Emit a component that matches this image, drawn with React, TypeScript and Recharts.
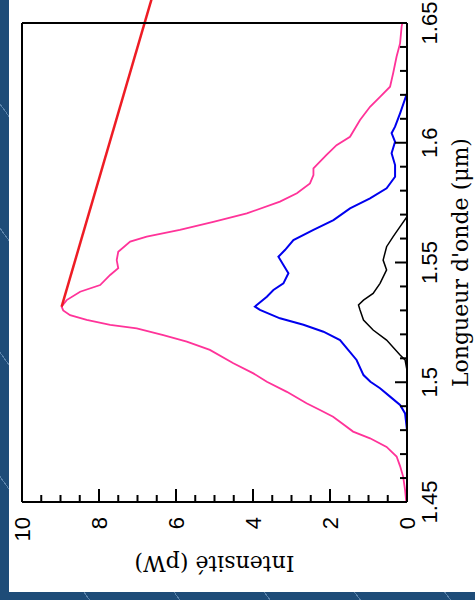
import React from 'react';
import { LineChart, Line, XAxis, YAxis, ReferenceLine } from 'recharts';

// wavelength (µm) axis
const waveTicks = [1.45, 1.46, 1.47, 1.48, 1.49, 1.5, 1.51, 1.52, 1.53, 1.54, 1.55, 1.56, 1.57, 1.58, 1.59, 1.6, 1.61, 1.62, 1.63, 1.64, 1.65];
const waveLabels = [1.45, 1.5, 1.55, 1.6, 1.65];

// intensity (pW) axis
const intensityTicks = [0, 0.5, 1, 1.5, 2, 2.5, 3, 3.5, 4, 4.5, 5, 5.5, 6, 6.5, 7, 7.5, 8, 8.5, 9, 9.5, 10];
const intensityLabels = [0, 2, 4, 6, 8, 10];

// pink spectrum
const pinkWave = [1.45, 1.455, 1.4606, 1.465, 1.469, 1.473, 1.4766, 1.4794, 1.483, 1.4856, 1.4884, 1.4912, 1.496, 1.5002, 1.5037, 1.5079, 1.5135, 1.517, 1.5197, 1.5225, 1.524, 1.526, 1.528, 1.53, 1.5316, 1.5343, 1.5378, 1.5406, 1.5448, 1.5476, 1.551, 1.5545, 1.5587, 1.5608, 1.5636, 1.567, 1.5705, 1.5754, 1.5789, 1.583, 1.5865, 1.5893, 1.5949, 1.599, 1.6025, 1.6095, 1.615, 1.6192, 1.6234, 1.629, 1.636, 1.6415, 1.6485, 1.65];
const pinkIntensity = [0.02, 0.05, 0.1, 0.18, 0.27, 0.53, 0.96, 1.4, 1.7, 1.92, 2.26, 2.61, 3.12, 3.64, 3.99, 4.51, 5.12, 5.72, 6.33, 7.02, 7.71, 8.32, 8.75, 8.93, 8.97, 8.84, 8.49, 7.97, 7.71, 7.5, 7.54, 7.5, 7.19, 6.76, 5.9, 5.03, 4.16, 3.3, 2.86, 2.52, 2.43, 2.43, 2.09, 1.83, 1.48, 1.22, 0.96, 0.7, 0.44, 0.36, 0.27, 0.18, 0.14, 0.12];

// blue spectrum
const blueWave = [1.45, 1.47, 1.48, 1.487, 1.4905, 1.494, 1.4975, 1.5002, 1.503, 1.5093, 1.5176, 1.5211, 1.524, 1.5267, 1.5302, 1.5316, 1.5357, 1.5385, 1.5413, 1.5455, 1.549, 1.5524, 1.5552, 1.5594, 1.5636, 1.5677, 1.5726, 1.5768, 1.581, 1.5858, 1.5907, 1.5956, 1.6004, 1.604, 1.6067, 1.6123, 1.6206, 1.65];
const blueIntensity = [0, 0, 0, 0.05, 0.18, 0.44, 0.7, 0.95, 1.13, 1.31, 1.74, 2.17, 2.69, 3.3, 3.82, 3.95, 3.64, 3.47, 3.21, 3.08, 3.21, 3.34, 3.17, 2.95, 2.43, 1.91, 1.48, 0.96, 0.53, 0.31, 0.31, 0.4, 0.31, 0.4, 0.31, 0.18, 0, 0];

// black spectrum
const blackWave = [1.45, 1.505, 1.5093, 1.5114, 1.5176, 1.5218, 1.526, 1.5302, 1.5323, 1.5343, 1.5371, 1.5413, 1.5469, 1.551, 1.5566, 1.5608, 1.565, 1.5691, 1.65];
const blackIntensity = [0, 0, 0.05, 0.18, 0.53, 0.88, 1.13, 1.22, 1.26, 1.13, 0.88, 0.7, 0.53, 0.62, 0.53, 0.36, 0.18, 0, 0];

// red pointer from the pink peak
const pointerWave = [1.5316, 1.68];
const pointerIntensity = [8.97, 6.27];

const toPoints = (w: number[], v: number[]) => w.map((wave, i) => ({ wave, intensity: v[i] }));

const TICK_FONT = '"Liberation Sans", Arial, sans-serif';
const TITLE_FONT = '"DejaVu Serif", serif';

const isMajor = (list: number[], v: number) => list.some((m) => Math.abs(m - v) < 1e-6);

function BottomTick({ x, y, payload }: any) {
    const major = isMajor(waveLabels, payload.value);
    return (
        <g>
            <line x1={x} y1={y} x2={x} y2={y - (major ? 12 : 7)} stroke="#000" strokeWidth={2} />
            {major && (
                <text x={x} y={y + 30} textAnchor="middle" fontSize={22} fontFamily={TICK_FONT} fill="#000">
                    {payload.value}
                </text>
            )}
        </g>
    );
}

function TopTick({ x, y, payload }: any) {
    const major = isMajor(waveLabels, payload.value);
    return <line x1={x} y1={y} x2={x} y2={y + (major ? 12 : 7)} stroke="#000" strokeWidth={2} />;
}

function LeftTick({ x, y, payload }: any) {
    const major = isMajor(intensityLabels, payload.value);
    return (
        <g>
            <line x1={x} y1={y} x2={x + (major ? 13 : 7)} y2={y} stroke="#000" strokeWidth={2} />
            {major && (
                <text x={x - 15} y={y} dy="0.36em" textAnchor="end" fontSize={22} fontFamily={TICK_FONT} fill="#000">
                    {payload.value}
                </text>
            )}
        </g>
    );
}

function RightTick({ x, y, payload }: any) {
    const major = isMajor(intensityLabels, payload.value);
    return <line x1={x} y1={y} x2={x - (major ? 13 : 7)} y2={y} stroke="#000" strokeWidth={2} />;
}

function WaveTitle({ viewBox }: any) {
    return (
        <text x={viewBox.x + viewBox.width / 2} y={viewBox.y + 61} textAnchor="middle" fontSize={22} fontFamily={TITLE_FONT} fill="#000">
            Longueur d'onde (μm)
        </text>
    );
}

function IntensityTitle({ viewBox }: any) {
    const tx = viewBox.x + viewBox.width - 54;
    const ty = viewBox.y + viewBox.height / 2;
    return (
        <text x={tx} y={ty} transform={`rotate(-90, ${tx}, ${ty})`} textAnchor="middle" fontSize={22} fontFamily={TITLE_FONT} fill="#000">
            Intensité (pW)
        </text>
    );
}

const frame = { stroke: '#000', strokeWidth: 2 };

export default function App() {
    return (
        <div
            style={{
                position: 'fixed',
                left: 0,
                top: 0,
                width: 475,
                height: 600,
                overflow: 'hidden',
                background: 'repeating-linear-gradient(54deg, #1e4c78 0px, #1e4c78 72px, #5b83aa 72px, #5b83aa 73px)',
            }}
        >
            {/* chart drawn upright, then turned a quarter left */}
            <div style={{ position: 'absolute', left: -68, top: 49, width: 620, height: 466, background: '#fff', transform: 'rotate(-90deg)' }}>
                <LineChart width={620} height={466} margin={{ top: 0, right: 0, bottom: 0, left: 0 }}>
                    <XAxis xAxisId="b" type="number" dataKey="wave" domain={[1.45, 1.65]} ticks={waveTicks} interval={0}
                        height={68} tickSize={0} tickMargin={0} tickLine={false} axisLine={frame} tick={BottomTick}
                        label={<WaveTitle />} />
                    <XAxis xAxisId="t" orientation="top" type="number" dataKey="wave" domain={[1.45, 1.65]} ticks={waveTicks} interval={0}
                        height={13} tickSize={0} tickMargin={0} tickLine={false} axisLine={frame} tick={TopTick} />
                    <YAxis yAxisId="l" type="number" dataKey="intensity" domain={[0, 10]} ticks={intensityTicks} interval={0}
                        width={90} tickSize={0} tickMargin={0} tickLine={false} axisLine={frame} tick={LeftTick}
                        label={<IntensityTitle />} />
                    <YAxis yAxisId="r" orientation="right" type="number" dataKey="intensity" domain={[0, 10]} ticks={intensityTicks} interval={0}
                        width={51} tickSize={0} tickMargin={0} tickLine={false} axisLine={frame} tick={RightTick} />

                    <Line xAxisId="b" yAxisId="l" data={toPoints(pinkWave, pinkIntensity)} dataKey="intensity" type="linear"
                        stroke="#ff3399" strokeWidth={1.8} dot={false} isAnimationActive={false} />
                    <Line xAxisId="b" yAxisId="l" data={toPoints(blueWave, blueIntensity)} dataKey="intensity" type="linear"
                        stroke="#0000ee" strokeWidth={2} dot={false} isAnimationActive={false} />
                    <Line xAxisId="b" yAxisId="l" data={toPoints(blackWave, blackIntensity)} dataKey="intensity" type="linear"
                        stroke="#000" strokeWidth={1.5} dot={false} isAnimationActive={false} />

                    <ReferenceLine xAxisId="b" yAxisId="l" ifOverflow="visible" stroke="#ee1c24" strokeWidth={2.5}
                        segment={toPoints(pointerWave, pointerIntensity).map((p) => ({ x: p.wave, y: p.intensity }))} />
                </LineChart>
            </div>
        </div>
    );
}
